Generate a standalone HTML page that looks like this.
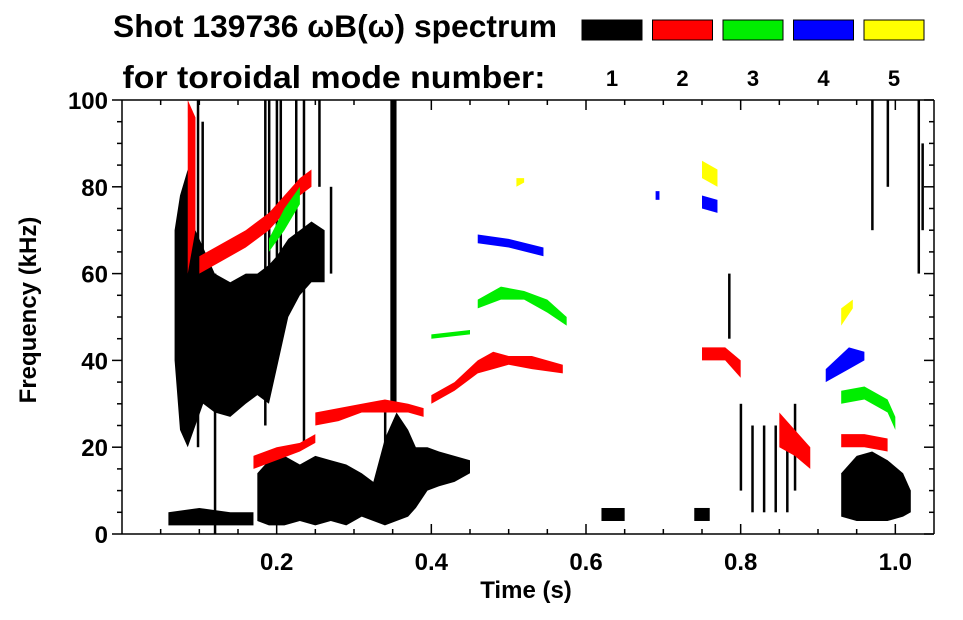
<!DOCTYPE html>
<html><head><meta charset="utf-8"><style>
body{margin:0;background:#fff;width:963px;height:615px;overflow:hidden;font-family:"Liberation Sans",sans-serif}
svg text{font-family:"Liberation Sans",sans-serif;font-weight:bold}
</style></head><body>
<svg id="chart" width="963" height="615" xmlns="http://www.w3.org/2000/svg">
<text x="335" y="37" font-size="31.5" text-anchor="middle" textLength="444" lengthAdjust="spacingAndGlyphs">Shot 139736 ωB(ω) spectrum</text>
<text x="334" y="88" font-size="31.5" text-anchor="middle" textLength="423" lengthAdjust="spacingAndGlyphs">for toroidal mode number:</text>
<g id="legend"></g>
<g id="marks"></g>
<g id="axes"></g>
<text x="526" y="598" font-size="24" text-anchor="middle">Time (s)</text>
<text transform="translate(36,310) rotate(-90)" font-size="24" text-anchor="middle">Frequency (kHz)</text>
</svg>
<script>
const modeColors=["#000000","#ff0000","#00ee00","#0000ff","#ffff00"];
const modeLabels=["1","2","3","4","5"];
const xTicks=[0.2,0.4,0.6,0.8,1.0];
const yTicks=[0,20,40,60,80,100];
const blackFeatures=[
 [[0.068,40,70],[0.075,24,78],[0.085,20,84],[0.095,25,70],[0.105,30,66],[0.12,28,60],[0.14,27,58],[0.16,30,60],[0.175,32,60],[0.19,30,62],[0.2,38,64],[0.215,50,68],[0.23,55,70],[0.245,58,72],[0.262,58,70]],
 [[0.175,3,14],[0.19,2,17],[0.21,2,18],[0.23,3,16],[0.25,2,18],[0.27,3,17],[0.29,2,16],[0.31,4,14],[0.325,3,12],[0.34,2,22],[0.355,3,28],[0.37,4,24],[0.38,6,20],[0.395,10,20],[0.41,11,19],[0.43,12,18],[0.45,14,17]],
 [[0.06,2,5],[0.1,2,6],[0.14,2,5],[0.17,2,5]],
 [[0.347,30,100],[0.355,30,100]],
 [[0.93,4,14],[0.95,3,18],[0.97,3,19],[0.99,3,17],[1.01,4,14],[1.02,5,10]],
 [[0.62,3,6],[0.65,3,6]],
 [[0.74,3,6],[0.76,3,6]]
];
const blackStreaks=[[0.098,20,100],[0.104,35,95],[0.12,0,60],[0.185,25,100],[0.19,50,100],[0.2,40,100],[0.205,60,100],[0.225,60,100],[0.235,20,100],[0.255,80,100],[0.27,60,80],[0.34,20,30],[0.785,45,60],[0.8,10,30],[0.815,5,25],[0.83,5,25],[0.845,5,25],[0.86,5,25],[0.87,10,30],[0.97,70,100],[0.99,80,100],[1.03,60,100],[1.035,70,90]];
const redFeatures=[
 [[0.085,60,100],[0.095,70,96]],
 [[0.1,60,64],[0.13,63,67],[0.16,66,70],[0.19,70,74],[0.21,74,78],[0.23,78,82],[0.245,80,84]],
 [[0.25,25,28],[0.28,26,29],[0.31,28,30],[0.34,28,31],[0.37,28,30],[0.39,27,29]],
 [[0.17,15,18],[0.2,17,20],[0.23,19,21],[0.25,21,23]],
 [[0.4,30,32],[0.43,33,35],[0.46,37,40],[0.48,38,42],[0.5,39,41],[0.53,38,41],[0.57,37,39]],
 [[0.75,40,43],[0.78,40,43],[0.8,36,40]],
 [[0.85,20,28],[0.87,18,24],[0.89,15,20]],
 [[0.93,20,23],[0.96,20,23],[0.99,19,22]]
];
const greenFeatures=[
 [[0.19,65,68],[0.21,70,75],[0.23,76,80]],
 [[0.46,52,54],[0.49,54,57],[0.52,54,56],[0.55,51,54],[0.575,48,50]],
 [[0.93,30,33],[0.96,31,34],[0.99,28,31],[1.0,24,27]],
 [[0.4,45,46],[0.45,46,47]]
];
const blueFeatures=[
 [[0.46,67,69],[0.5,66,68],[0.545,64,66]],
 [[0.75,75,78],[0.77,74,77]],
 [[0.91,35,38],[0.94,38,43],[0.96,40,42]],
 [[0.69,77,79],[0.695,77,79]]
];
const yellowFeatures=[
 [[0.75,82,86],[0.77,80,84]],
 [[0.93,48,52],[0.945,52,54]],
 [[0.51,80,82],[0.52,81,82]]
];
const X0=122,X1=934,Y0=534,Y1=100,TMAX=1.05;
const sx=t=>X0+t/TMAX*(X1-X0);
const sy=f=>Y0-f/100*(Y0-Y1);
const NS="http://www.w3.org/2000/svg";
const marks=document.getElementById('marks');
function drawFeature(pts,color){
  const top=pts.map(p=>sx(p[0])+','+sy(p[2]));
  const bot=pts.slice().reverse().map(p=>sx(p[0])+','+sy(p[1]));
  const pg=document.createElementNS(NS,'polygon');
  pg.setAttribute('points',top.concat(bot).join(' '));
  pg.setAttribute('fill',color);
  
  
  marks.appendChild(pg);
}
blackFeatures.forEach(f=>drawFeature(f,modeColors[0]));
blackStreaks.forEach(s=>{
  const r=document.createElementNS(NS,'rect');
  r.setAttribute('x',sx(s[0])-1);r.setAttribute('width',2.5);
  r.setAttribute('y',sy(s[2]));r.setAttribute('height',sy(s[1])-sy(s[2]));
  r.setAttribute('fill','#000');
  
  
  marks.appendChild(r);
});
redFeatures.forEach(f=>drawFeature(f,modeColors[1]));
greenFeatures.forEach(f=>drawFeature(f,modeColors[2]));
blueFeatures.forEach(f=>drawFeature(f,modeColors[3]));
yellowFeatures.forEach(f=>drawFeature(f,modeColors[4]));
const lg=document.getElementById('legend');
modeColors.forEach((c,i)=>{
  const x=582+i*70.5;
  const r=document.createElementNS(NS,'rect');
  r.setAttribute('x',x);r.setAttribute('y',20);r.setAttribute('width',60);r.setAttribute('height',20);
  r.setAttribute('fill',c);r.setAttribute('stroke','#000');r.setAttribute('stroke-width',1);
  
  
  lg.appendChild(r);
  const t=document.createElementNS(NS,'text');
  t.setAttribute('x',x+30);t.setAttribute('y',86);t.setAttribute('font-size',22);t.setAttribute('text-anchor','middle');
  t.textContent=modeLabels[i];
  
  
  lg.appendChild(t);
});
const ax=document.getElementById('axes');
function line(x1,y1,x2,y2,name){
  const l=document.createElementNS(NS,'line');
  l.setAttribute('x1',x1);l.setAttribute('y1',y1);l.setAttribute('x2',x2);l.setAttribute('y2',y2);
  l.setAttribute('stroke','#000');l.setAttribute('stroke-width',1.5);
  
  
  ax.appendChild(l);
}
line(X0,Y0,X1,Y0,'x-axis');line(X0,Y1,X1,Y1,'top-axis');
line(X0,Y1,X0,Y0,'y-axis');line(X1,Y1,X1,Y0,'right-axis');
for(let t=0.05;t<TMAX-0.001;t+=0.05){
  const major=Math.abs(t*10-Math.round(t*10))<0.01 && Math.round(t*10)%2===0;
  const L=major?10:5;
  line(sx(t),Y0,sx(t),Y0-L,'x-tick');line(sx(t),Y1,sx(t),Y1+L,'x-tick-top');
}
for(let f=0;f<=100;f+=5){
  const L=f%20===0?10:5;
  line(X0,sy(f),X0-L,sy(f),'y-tick');line(X1,sy(f),X1-L,sy(f),'y-tick-right');
}
xTicks.forEach(v=>{
  const t=document.createElementNS(NS,'text');
  t.setAttribute('x',sx(v));t.setAttribute('y',570);t.setAttribute('font-size',24);t.setAttribute('text-anchor','middle');
  t.textContent=v.toFixed(1);
  
  
  ax.appendChild(t);
});
yTicks.forEach(v=>{
  const t=document.createElementNS(NS,'text');
  t.setAttribute('x',108);t.setAttribute('y',sy(v)+9);t.setAttribute('font-size',24);t.setAttribute('text-anchor','end');
  t.textContent=v;
  
  
  ax.appendChild(t);
});
</script>
</body></html>
